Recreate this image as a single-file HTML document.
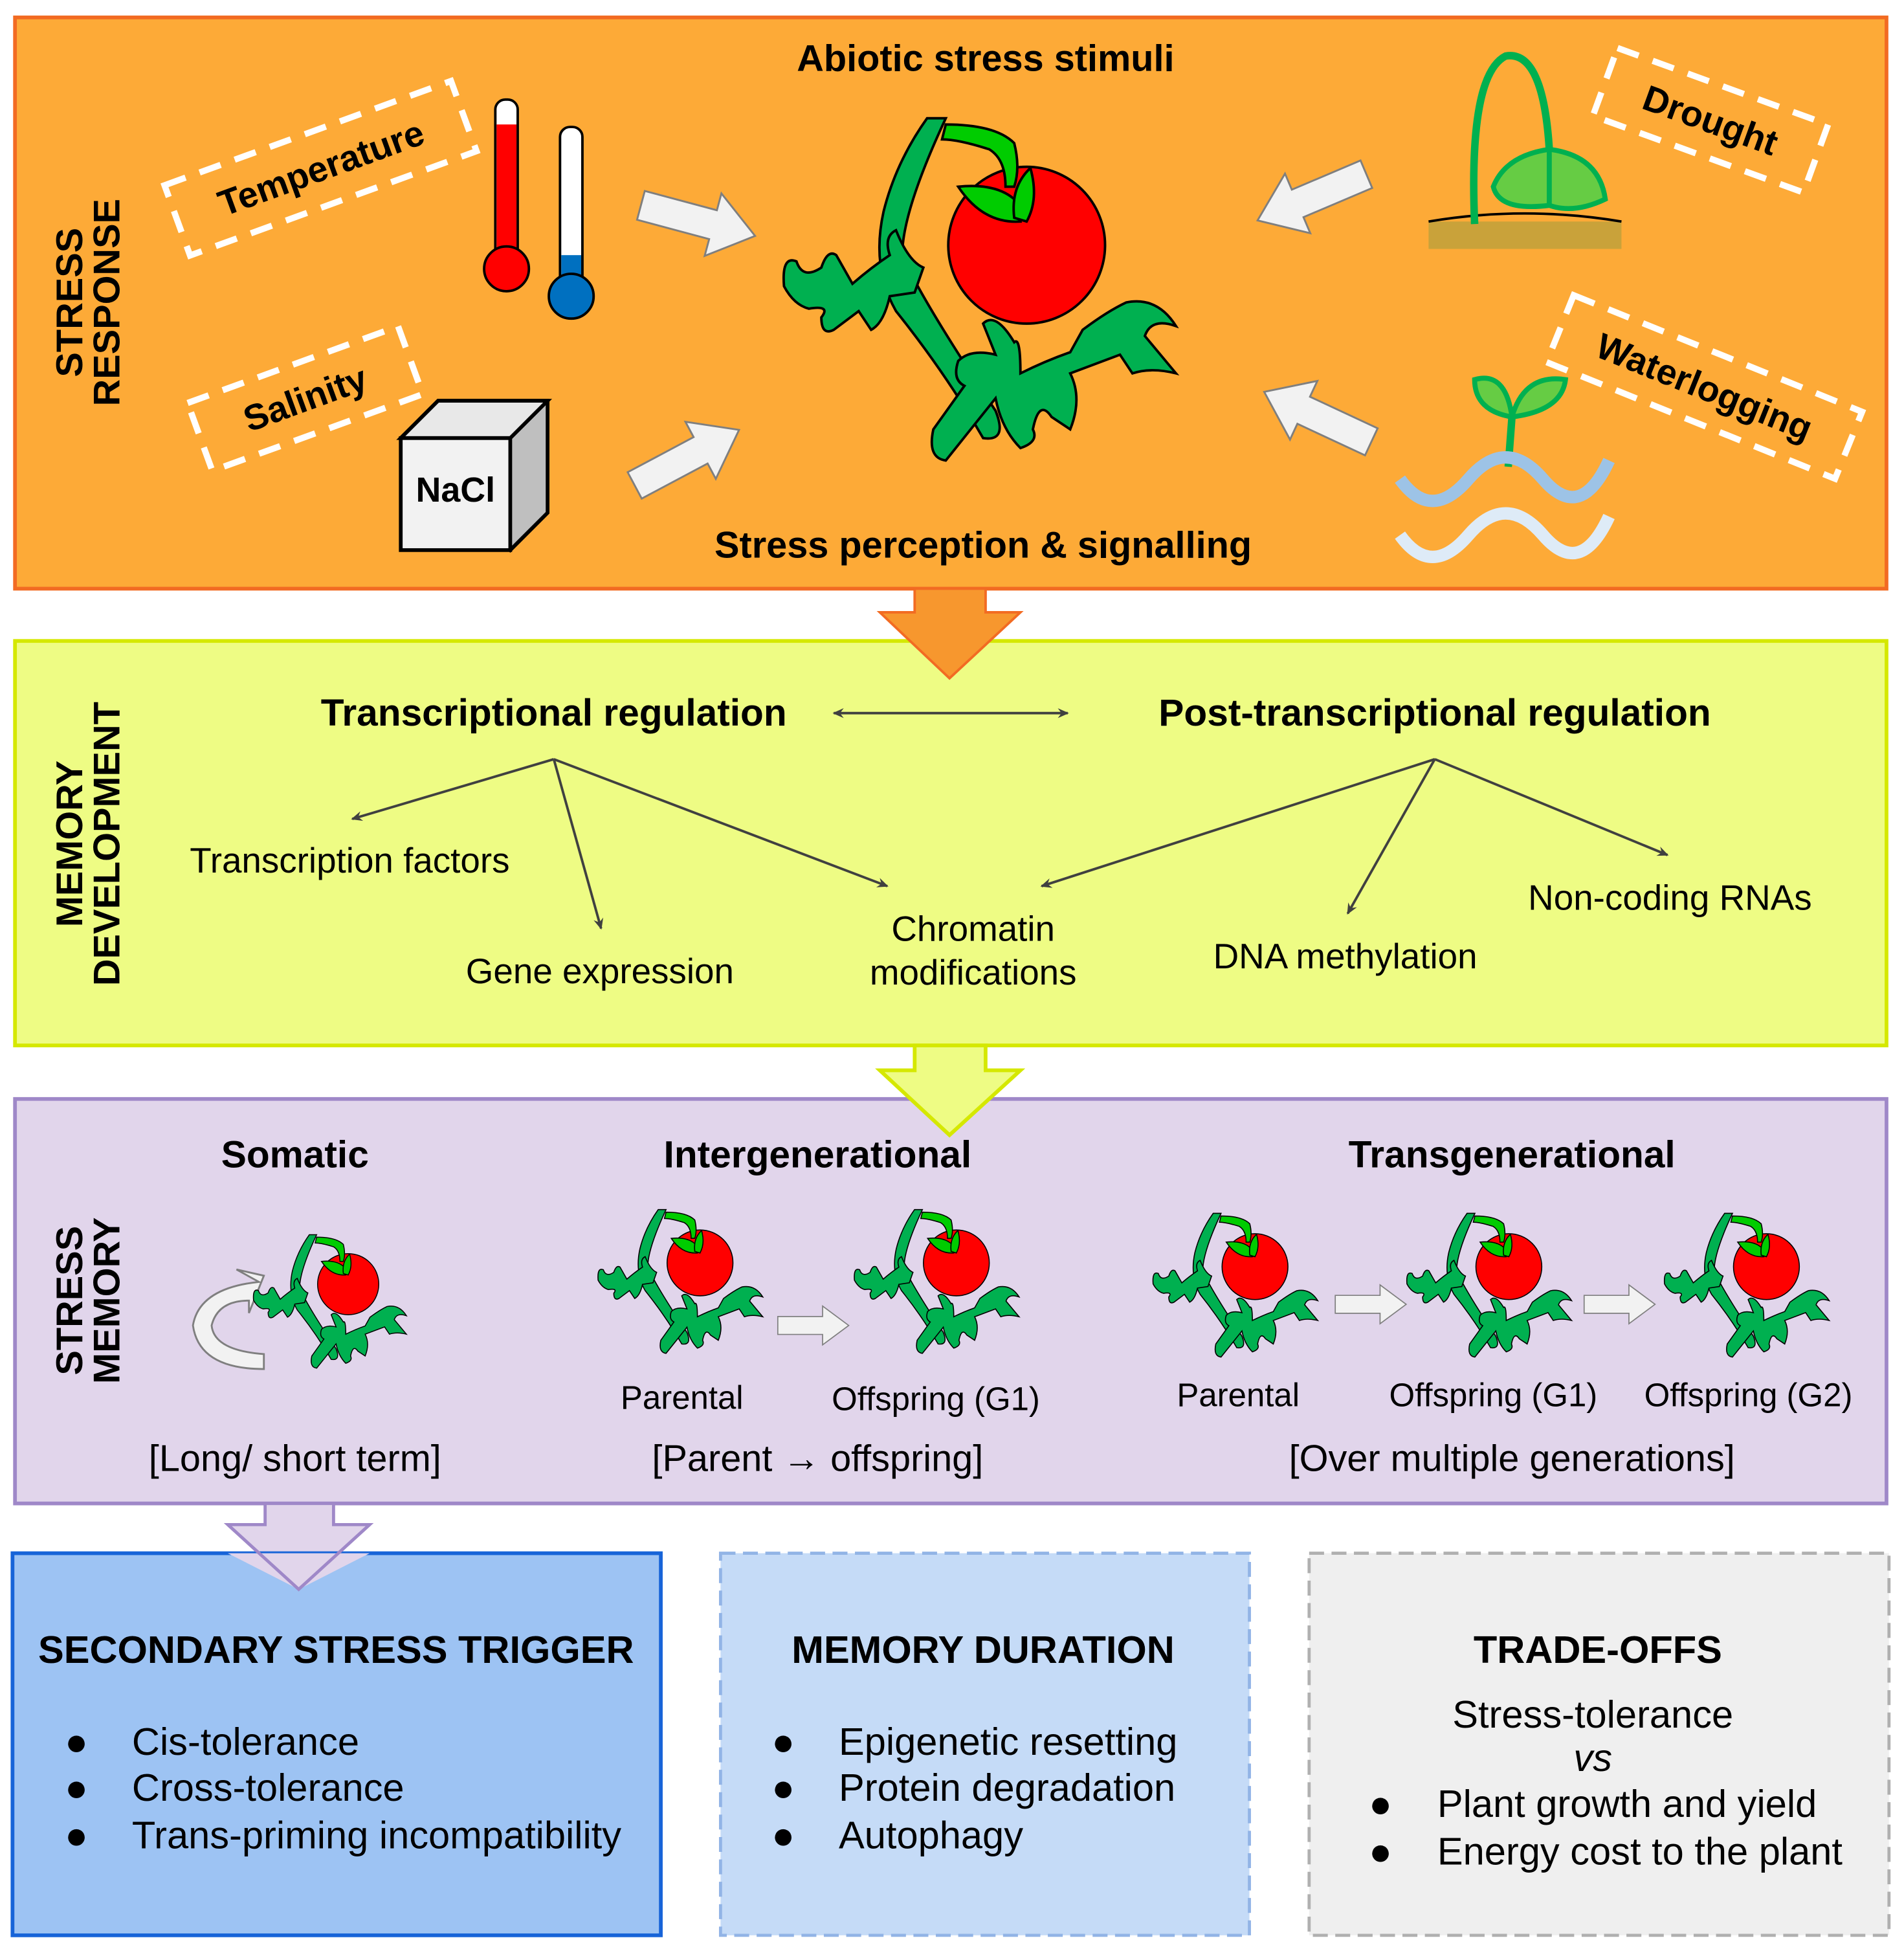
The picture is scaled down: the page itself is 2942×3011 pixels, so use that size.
<!DOCTYPE html>
<html><head><meta charset="utf-8"><style>
html,body{margin:0;padding:0;background:#fff}
svg{display:block}
text{font-family:"Liberation Sans",Arial,sans-serif;fill:#000}
.b{font-weight:bold}
</style></head><body>
<svg width="2942" height="3011" viewBox="0 0 1530 1566" xmlns="http://www.w3.org/2000/svg">
<defs>
<g id="tom">
  <path d="M745,95 L760,95 Q725,170 725,205 Q740,240 800,330 Q810,355 790,352 Q760,300 720,250 Q700,215 710,170 Q720,130 745,95Z" fill="#00b050" stroke="#000" stroke-width="2"/>
  <ellipse cx="825" cy="197" rx="63" ry="63" fill="#f00" stroke="#000" stroke-width="2"/>
  <path d="M760,100 Q800,100 815,115 Q820,135 815,150 L808,150 Q808,128 795,120 Q770,112 757,112Z" fill="#00cc00" stroke="#000" stroke-width="2"/>
  <path d="M770,150 Q800,147 815,160 L820,178 Q790,180 770,150Z" fill="#00cc00" stroke="#000" stroke-width="2"/>
  <path d="M815,175 Q812,150 828,135 Q835,160 825,178Z" fill="#00cc00" stroke="#000" stroke-width="2"/>
  <path d="M630,230 Q628,205 640,210 Q645,225 660,215 Q665,200 672,205 L685,228 Q700,215 715,205 Q710,190 720,185 Q730,210 742,215 L735,235 L715,238 Q710,260 700,265 L690,250 L670,265 Q660,270 660,255 Q668,245 650,248 Q638,245 630,230Z" fill="#00b050" stroke="#000" stroke-width="2"/>
  <path d="M770,290 Q780,280 800,285 L790,260 Q800,250 815,275 Q820,270 820,300 Q840,290 860,283 L870,265 Q890,250 905,243 Q930,238 945,262 Q925,255 920,270 L945,300 Q925,295 910,300 L900,285 L860,300 Q870,320 860,345 L845,335 Q835,320 830,345 Q835,355 820,360 Q805,345 800,320 L780,345 L760,370 Q745,368 750,345 L775,310 Q765,305 770,290Z" fill="#00b050" stroke="#000" stroke-width="2"/>
</g>
<g id="warr"><path d="M0,-12 L60,-12 L60,-26 L95,0 L60,26 L60,12 L0,12Z" fill="#f2f2f2" stroke="#7f7f7f" stroke-width="1.5"/></g>
<marker id="ah" markerWidth="10" markerHeight="10" refX="8" refY="5" orient="auto" markerUnits="userSpaceOnUse"><path d="M0,1 L9,5 L0,9 L3,5Z" fill="#404040"/></marker>
<marker id="ahs" markerWidth="10" markerHeight="10" refX="1" refY="5" orient="auto" markerUnits="userSpaceOnUse"><path d="M9,1 L0,5 L9,9 L6,5Z" fill="#404040"/></marker>
</defs>

<!-- Orange panel -->
<rect x="12" y="14" width="1504" height="459" fill="#fdaa37" stroke="#f26b22" stroke-width="3"/>
<text class="b" x="792" y="57" font-size="30" text-anchor="middle">Abiotic stress stimuli</text>
<text class="b" x="790" y="448" font-size="30" text-anchor="middle">Stress perception &amp; signalling</text>
<text class="b" font-size="30" transform="translate(66,243) rotate(-90)" text-anchor="middle">STRESS</text>
<text class="b" font-size="30" transform="translate(96,243) rotate(-90)" text-anchor="middle">RESPONSE</text>

<g transform="rotate(-20 258 135)"><rect x="135" y="105" width="245" height="60" fill="none" stroke="#fff" stroke-width="5" stroke-dasharray="18 12"/><text class="b" x="258" y="145" font-size="29" text-anchor="middle">Temperature</text></g>
<g transform="rotate(-20 243 320)"><rect x="155" y="292" width="180" height="58" fill="none" stroke="#fff" stroke-width="5" stroke-dasharray="18 12"/><text class="b" x="245" y="331" font-size="29" text-anchor="middle">Salinity</text></g>
<g transform="rotate(20 1373 95)"><rect x="1285" y="67" width="180" height="58" fill="none" stroke="#fff" stroke-width="5" stroke-dasharray="18 12"/><text class="b" x="1375" y="106" font-size="29" text-anchor="middle">Drought</text></g>
<g transform="rotate(22 1370 310)"><rect x="1245" y="282" width="250" height="58" fill="none" stroke="#fff" stroke-width="5" stroke-dasharray="18 12"/><text class="b" x="1370" y="321" font-size="29" text-anchor="middle">Waterlogging</text></g>

<!-- thermometers -->
<rect x="398" y="80" width="18" height="135" rx="8" fill="#fff" stroke="#000" stroke-width="2"/>
<rect x="399" y="100" width="16" height="115" fill="#f00"/>
<circle cx="407" cy="216" r="18" fill="#f00" stroke="#000" stroke-width="2"/>
<rect x="450" y="102" width="18" height="135" rx="8" fill="#fff" stroke="#000" stroke-width="2"/>
<rect x="451" y="205" width="16" height="32" fill="#0070c0"/>
<circle cx="459" cy="238" r="18" fill="#0070c0" stroke="#000" stroke-width="2"/>
<!-- NaCl cube -->
<path d="M322,352 L352,322 L440,322 L440,412 L410,442 Z" fill="#bfbfbf" stroke="#000" stroke-width="3"/>
<path d="M322,352 L352,322 L440,322 L410,352Z" fill="#e8e8e8" stroke="#000" stroke-width="3"/>
<rect x="322" y="352" width="88" height="90" fill="#f2f2f2" stroke="#000" stroke-width="3"/>
<text class="b" x="366" y="403" font-size="28" text-anchor="middle">NaCl</text>

<!-- drought plant -->
<rect x="1148" y="178" width="155" height="22" fill="#c9a23a"/>
<path d="M1148,178 Q1225,165 1303,178" fill="none" stroke="#000" stroke-width="2"/>
<path d="M1185,180 Q1180,60 1210,45 Q1240,40 1245,120" fill="none" stroke="#00b050" stroke-width="6"/>
<path d="M1245,120 Q1210,125 1200,150 Q1205,170 1245,165Z" fill="#66cc44" stroke="#00b050" stroke-width="4"/>
<path d="M1245,120 Q1285,125 1290,160 Q1265,172 1245,165Z" fill="#66cc44" stroke="#00b050" stroke-width="4"/>
<!-- waterlogging plant -->
<path d="M1212,375 L1215,335" stroke="#00b050" stroke-width="6"/>
<path d="M1215,335 Q1185,330 1185,305 Q1210,298 1215,335Z" fill="#66cc44" stroke="#00b050" stroke-width="4"/>
<path d="M1215,335 Q1255,330 1258,305 Q1225,300 1215,335Z" fill="#66cc44" stroke="#00b050" stroke-width="4"/>
<path d="M1125,385 Q1150,420 1180,385 Q1210,350 1240,385 Q1270,420 1293,370" fill="none" stroke="#9dc3e6" stroke-width="10"/>
<path d="M1125,430 Q1150,465 1180,430 Q1210,395 1240,430 Q1270,465 1293,415" fill="none" stroke="#deebf7" stroke-width="10"/>

<!-- arrows to tomato -->
<use href="#warr" transform="translate(515,165) rotate(15)"/>
<use href="#warr" transform="translate(510,390) rotate(-28)"/>
<use href="#warr" transform="translate(1098,140) rotate(157)"/>
<use href="#warr" transform="translate(1102,355) rotate(-155)"/>
<use href="#tom"/>

<!-- Yellow panel -->
<rect x="12" y="515" width="1504" height="325" fill="#eefc84" stroke="#d5e800" stroke-width="3"/>
<path d="M735,473 L792,473 L792,492 L820,492 L763,545 L707,492 L735,492Z" fill="#f7972e" stroke="#f26b22" stroke-width="2"/>
<text class="b" font-size="30" transform="translate(66,678) rotate(-90)" text-anchor="middle">MEMORY</text>
<text class="b" font-size="30" transform="translate(96,678) rotate(-90)" text-anchor="middle">DEVELOPMENT</text>
<text class="b" x="445" y="583" font-size="30.5" text-anchor="middle">Transcriptional regulation</text>
<text class="b" x="1153" y="583" font-size="30.5" text-anchor="middle">Post-transcriptional regulation</text>
<line x1="670" y1="573" x2="858" y2="573" stroke="#404040" stroke-width="2" marker-end="url(#ah)" marker-start="url(#ahs)"/>
<g stroke="#404040" stroke-width="2" marker-end="url(#ah)">
<line x1="445" y1="610" x2="283" y2="658"/>
<line x1="445" y1="610" x2="483" y2="746"/>
<line x1="445" y1="610" x2="713" y2="712"/>
<line x1="1153" y1="610" x2="837" y2="712"/>
<line x1="1153" y1="610" x2="1083" y2="734"/>
<line x1="1153" y1="610" x2="1340" y2="687"/>
</g>
<g font-size="28.5" text-anchor="middle">
<text x="281" y="701">Transcription factors</text>
<text x="482" y="790">Gene expression</text>
<text x="782" y="756">Chromatin</text>
<text x="782" y="791">modifications</text>
<text x="1081" y="778">DNA methylation</text>
<text x="1342" y="731">Non-coding RNAs</text>
</g>

<!-- Purple panel -->
<rect x="12" y="883" width="1504" height="325" fill="#e1d5eb" stroke="#9f88c8" stroke-width="3"/>
<path d="M735,840 L792,840 L792,860 L820,860 L763,912 L707,860 L735,860Z" fill="#eefc84" stroke="#d5e800" stroke-width="3"/>
<text class="b" font-size="30" transform="translate(66,1045) rotate(-90)" text-anchor="middle">STRESS</text>
<text class="b" font-size="30" transform="translate(96,1045) rotate(-90)" text-anchor="middle">MEMORY</text>
<g class="b" font-size="30.5" text-anchor="middle" font-weight="bold">
<text x="237" y="938">Somatic</text>
<text x="657" y="938">Intergenerational</text>
<text x="1215" y="938">Transgenerational</text>
</g>
<g font-size="26.5" text-anchor="middle">
<text x="548" y="1132">Parental</text>
<text x="752" y="1133">Offspring (G1)</text>
<text x="995" y="1130">Parental</text>
<text x="1200" y="1130">Offspring (G1)</text>
<text x="1405" y="1130">Offspring (G2)</text>
</g>
<g font-size="30" text-anchor="middle">
<text x="237" y="1182">[Long/ short term]</text>
<text x="657" y="1182">[Parent → offspring]</text>
<text x="1215" y="1182">[Over multiple generations]</text>
</g>
<path d="M208,1030 Q160,1035 155,1065 Q160,1100 212,1100 L212,1088 Q172,1085 170,1065 Q175,1045 200,1045 L200,1055 L212,1025 L190,1020Z" fill="#f2f2f2" stroke="#7f7f7f" stroke-width="1.5"/>
<use href="#tom" transform="translate(-42,955) scale(0.39)"/>
<use href="#tom" transform="translate(216,932) scale(0.42)"/>
<use href="#tom" transform="translate(422,932) scale(0.42)"/>
<use href="#tom" transform="translate(662,935) scale(0.42)"/>
<use href="#tom" transform="translate(866,935) scale(0.42)"/>
<use href="#tom" transform="translate(1073,935) scale(0.42)"/>
<use href="#warr" transform="translate(625,1065) scale(0.6)"/>
<use href="#warr" transform="translate(1073,1048) scale(0.6)"/>
<use href="#warr" transform="translate(1273,1048) scale(0.6)"/>

<!-- bottom boxes -->
<path d="M213,1208 L268,1208 L268,1225 L297,1225 L240,1277 L183,1225 L213,1225Z" fill="#e1d5eb" stroke="#9f88c8" stroke-width="2.5"/>
<rect x="10" y="1248" width="521" height="307" fill="#9dc3f3" stroke="#1764d8" stroke-width="3"/>
<path d="M213,1248 L183,1248 L240,1277 L297,1248Z" fill="#e1d5eb"/>
<path d="M183,1225 L240,1277 L297,1225" fill="none" stroke="#9f88c8" stroke-width="2.5"/>
<rect x="579" y="1248" width="425" height="307" fill="#c5dbf7" stroke="#92b4e6" stroke-width="2.5" stroke-dasharray="12 6"/>
<rect x="1052" y="1248" width="466" height="307" fill="#efefef" stroke="#b0b0b0" stroke-width="2.5" stroke-dasharray="12 6"/>
<g class="b" font-size="31" font-weight="bold" text-anchor="middle">
<text x="270" y="1336">SECONDARY STRESS TRIGGER</text>
<text x="790" y="1336">MEMORY DURATION</text>
<text x="1284" y="1336">TRADE-OFFS</text>
</g>
<g font-size="31">
<text x="52" y="1410">●</text><text x="106" y="1410">Cis-tolerance</text>
<text x="52" y="1447">●</text><text x="106" y="1447">Cross-tolerance</text>
<text x="52" y="1485">●</text><text x="106" y="1485">Trans-priming incompatibility</text>
<text x="620" y="1410">●</text><text x="674" y="1410">Epigenetic resetting</text>
<text x="620" y="1447">●</text><text x="674" y="1447">Protein degradation</text>
<text x="620" y="1485">●</text><text x="674" y="1485">Autophagy</text>
<text x="1280" y="1388" text-anchor="middle">Stress-tolerance</text>
<text x="1280" y="1423" text-anchor="middle" font-style="italic">vs</text>
<text x="1100" y="1460">●</text><text x="1155" y="1460">Plant growth and yield</text>
<text x="1100" y="1498">●</text><text x="1155" y="1498">Energy cost to the plant</text>
</g>
</svg>
</body></html>
